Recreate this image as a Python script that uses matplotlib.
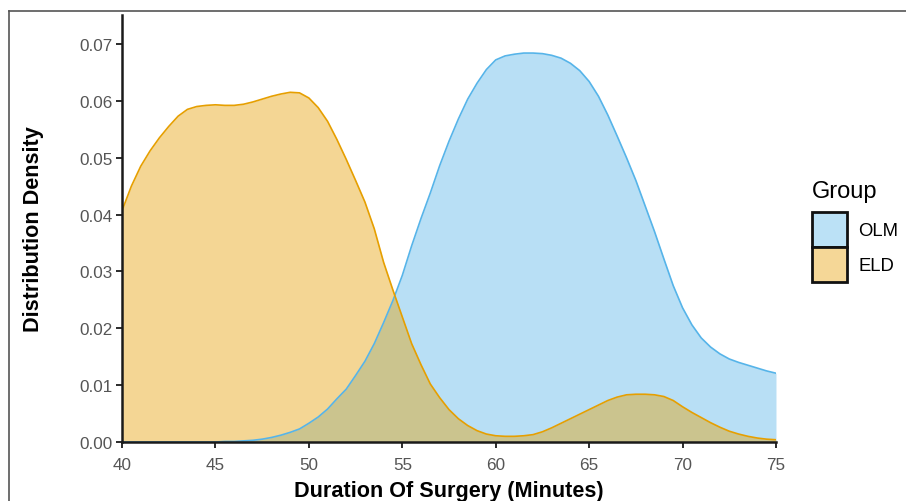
import numpy as np
import matplotlib.pyplot as plt
from matplotlib.patches import Patch
from matplotlib.lines import Line2D

plt.rcParams['font.family'] = ['Liberation Sans', 'DejaVu Sans']

# durasi operasi (menit), setiap setengah menit
minutes = np.arange(40, 75.5, 0.5)

# densitas grup OLM
olm = [0.0, 0.0, 0.0, 0.0, 0.0, 0.0, 0.0, 0.0, 0.0, 0.0,
       0.0, 0.0001, 0.0001, 0.0002, 0.0003, 0.0005, 0.0008, 0.0012, 0.0017, 0.0023,
       0.0033, 0.0044, 0.0058, 0.0076, 0.0093, 0.0117, 0.0142, 0.0173, 0.0210, 0.0249,
       0.0293, 0.0345, 0.0393, 0.0438, 0.0486, 0.0529, 0.0568, 0.0603, 0.0631, 0.0655,
       0.0672, 0.0679, 0.0682, 0.0684, 0.0684, 0.0683, 0.0680, 0.0675, 0.0666, 0.0653,
       0.0634, 0.0608, 0.0575, 0.0538, 0.0500, 0.0460, 0.0415, 0.0370, 0.0322, 0.0275,
       0.0236, 0.0206, 0.0183, 0.0167, 0.0155, 0.0146, 0.0140, 0.0135, 0.0130, 0.0125,
       0.0121]

# densitas grup ELD
eld = [0.0407, 0.0450, 0.0485, 0.0512, 0.0535, 0.0555, 0.0573, 0.0585, 0.0590, 0.0592,
       0.0593, 0.0592, 0.0592, 0.0594, 0.0598, 0.0603, 0.0608, 0.0612, 0.0615, 0.0614,
       0.0605, 0.0588, 0.0564, 0.0532, 0.0497, 0.0460, 0.0422, 0.0375, 0.0316, 0.0267,
       0.0220, 0.0173, 0.0136, 0.0102, 0.0078, 0.0057, 0.0041, 0.0029, 0.0020, 0.0014,
       0.0011, 0.0010, 0.0010, 0.0011, 0.0013, 0.0018, 0.0025, 0.0033, 0.0041, 0.0049,
       0.0057, 0.0065, 0.0073, 0.0079, 0.0083, 0.0084, 0.0084, 0.0083, 0.0080, 0.0073,
       0.0062, 0.0052, 0.0043, 0.0034, 0.0026, 0.0019, 0.0014, 0.0010, 0.0007, 0.0005,
       0.0004]

groups = ['OLM', 'ELD']
colors = ['#56B4E9', '#E69F00']
alpha = 0.42

fig = plt.figure(figsize=(9.06, 5.02), dpi=100)
ax = fig.add_axes([0.1347, 0.1175, 0.7218, 0.8507])

for vals, c in zip([olm, eld], colors):
    ax.fill_between(minutes, vals, color=c, alpha=alpha, linewidth=0)
    ax.plot(minutes, vals, color=c, linewidth=1.2)

ax.set_xlim(40, 75)
ax.set_ylim(0, 0.0751)
ax.set_xticks([40, 45, 50, 55, 60, 65, 70, 75])
yt = np.arange(0, 0.071, 0.01)
ax.set_yticks(yt)
ax.set_yticklabels([f'{v:.2f}' for v in yt])

for s in ['top', 'right']:
    ax.spines[s].set_visible(False)
for s in ['left', 'bottom']:
    ax.spines[s].set_linewidth(1.8)
    ax.spines[s].set_color('#1a1a1a')
ax.tick_params(axis='both', length=4, width=1.3, color='#1a1a1a',
               labelsize=12.3, labelcolor='#555555', pad=2.5)
ax.tick_params(axis='x', pad=6.5)

ax.set_xlabel('Duration Of Surgery (Minutes)', fontsize=15.6, fontweight='bold')
ax.set_ylabel('Distribution Density', fontsize=15.6, fontweight='bold')
ax.xaxis.set_label_coords(0.5, -0.089)
ax.yaxis.set_label_coords(-0.119, 0.5)

# kotak legenda dengan tepi hitam
handles = [Patch(facecolor=c, edgecolor='#111111', linewidth=2.0)
           for c in ['#bbe1f6', '#f5d797']]
leg = fig.legend(handles, groups, title='Group', loc='upper left',
                 bbox_to_anchor=(0.886, 0.658), frameon=False, fontsize=13.3,
                 title_fontsize=17, handlelength=1.9, handleheight=2.55,
                 labelspacing=0.0, handletextpad=0.6, borderpad=0, alignment='left')
leg._legend_box.sep = 7

# garis bingkai potongan gambar
fig.add_artist(Line2D([0.0099, 1.0], [0.976, 0.976], color='#555555', linewidth=1.2))
fig.add_artist(Line2D([0.0099, 0.0099], [0.0, 0.976], color='#555555', linewidth=1.2))

plt.savefig('out.png', dpi=100)
